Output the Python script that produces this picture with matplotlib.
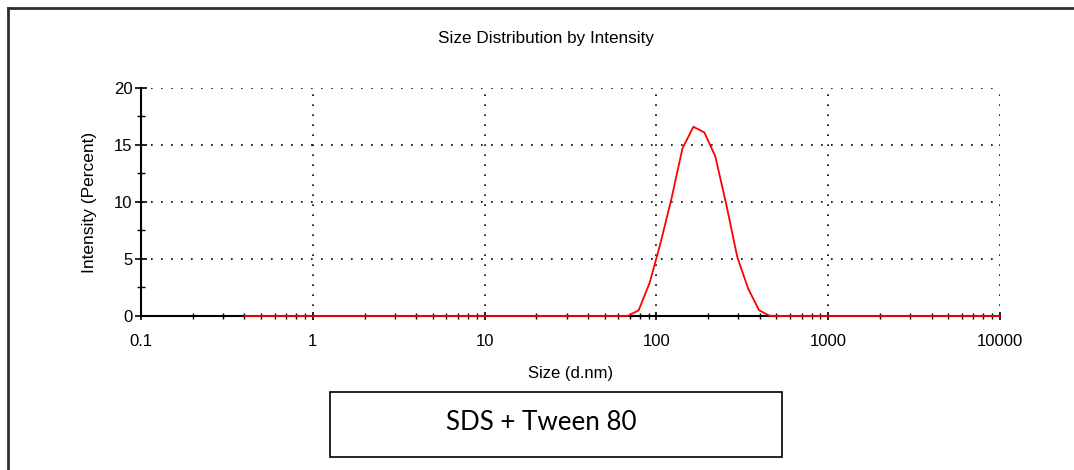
import matplotlib
matplotlib.use("Agg")
import matplotlib.pyplot as plt
from matplotlib.lines import Line2D
from matplotlib.patches import Rectangle
from matplotlib.ticker import FixedLocator, NullFormatter

# Size bins (d.nm) and intensity (%)
sizes = [0.4, 0.4632, 0.5365, 0.6213, 0.7195, 0.8332, 0.9649, 1.117, 1.294, 1.499,
         1.736, 2.01, 2.328, 2.696, 3.122, 3.615, 4.187, 4.849, 5.615, 6.503,
         7.531, 8.721, 10.1, 11.7, 13.54, 15.69, 18.17, 21.04, 24.36, 28.21,
         32.67, 37.84, 43.82, 50.75, 58.77, 68.06, 78.82, 91.28, 105.7, 122.4,
         141.8, 164.2, 190.1, 220.2, 255.0, 295.3, 342.0, 396.1, 458.7, 531.2,
         615.1, 712.4, 825.0, 955.4, 1106, 1281, 1484, 1718, 1990, 2305,
         2669, 3091, 3580, 4145, 4801, 5560, 6439, 7456, 8635, 10000]
intensity = [0.0] * 35 + [0.0, 0.5, 2.9, 6.4, 10.3, 14.7, 16.6, 16.1, 14.0,
                          9.8, 5.2, 2.4, 0.5] + [0.0] * 22

x_ticks = [0.1, 1, 10, 100, 1000, 10000]
x_tick_labels = ["0.1", "1", "10", "100", "1000", "10000"]
y_ticks = [0, 5, 10, 15, 20]

plt.rcParams['font.family'] = ['Liberation Sans', 'DejaVu Sans']

fig = plt.figure(figsize=(10.74, 4.7), dpi=100)
ax = fig.add_axes([0.1313, 0.3277, 0.7998, 0.4851])

ax.plot(sizes, intensity, color="red", lw=1.3, zorder=3, clip_on=False)

ax.set_xscale("log")
ax.set_xlim(0.1, 10000)
ax.set_ylim(0, 20)
ax.set_xticks(x_ticks)
ax.set_xticklabels(x_tick_labels)
ax.set_yticks(y_ticks)
ax.yaxis.set_minor_locator(FixedLocator([2.5, 7.5, 12.5, 17.5]))
ax.xaxis.set_minor_formatter(NullFormatter())

dots = (0, (1, 5))
ax.grid(True, which="major", color="black", linestyle=dots, linewidth=1.2)
for s in ["top", "right"]:
    ax.spines[s].set_visible(False)
for s in ["left", "bottom"]:
    ax.spines[s].set_linewidth(1.5)

ax.tick_params(axis="y", which="major", direction="inout", length=8, width=1.2, labelsize=12, pad=2)
ax.tick_params(axis="y", which="minor", direction="inout", length=6, width=1.0)
ax.tick_params(axis="x", which="major", direction="inout", length=6, width=1.2, labelsize=12, pad=10)
ax.tick_params(axis="x", which="minor", direction="inout", length=4, width=1.0)

ax.set_xlabel("Size (d.nm)", fontsize=12, labelpad=12)
ax.set_ylabel("Intensity (Percent)", fontsize=12.5, labelpad=12)
fig.text(0.508, 0.919, "Size Distribution by Intensity", ha="center", va="center", fontsize=12.3)

# outer frame
fig.add_artist(Line2D([0.0075, 1.0], [0.983, 0.983], color="#303030", lw=2))
fig.add_artist(Line2D([0.0075, 0.0075], [0.0, 0.983], color="#303030", lw=2))

# caption box
fig.add_artist(Rectangle((0.3073, 0.028), 0.421, 0.138, transform=fig.transFigure,
                         fill=False, edgecolor="black", lw=1.2))
fig.text(0.504, 0.102, "SDS + Tween 80", ha="center", va="center", fontsize=18.7,
         family=["Lato", "DejaVu Sans"])

fig.savefig("out.png", dpi=100)
